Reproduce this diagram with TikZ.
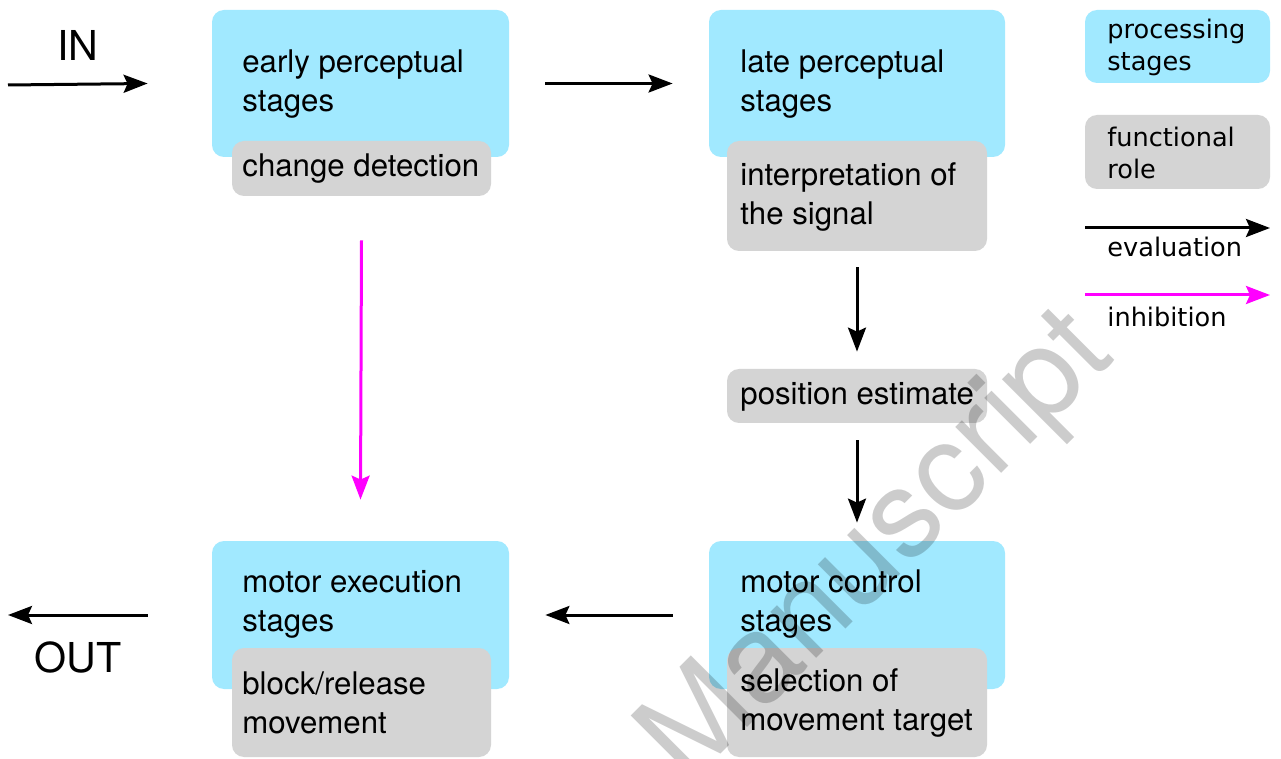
\documentclass[tikz,border=0pt]{standalone}
\usepackage{fontspec}
\setmainfont{TeX Gyre Heros}
\newfontfamily\legfont{DejaVu Sans}
\usetikzlibrary{arrows.meta,fit}
\definecolor{procblue}{RGB}{161,233,255}
\definecolor{rolegray}{RGB}{212,212,212}
\definecolor{inhib}{RGB}{255,0,255}
\begin{document}
\begin{tikzpicture}[x=0.5pt,y=-0.5pt,
  procbox/.style={fill=procblue, rounded corners=6pt, inner sep=0pt},
  rolebox/.style={fill=rolegray, rounded corners=6pt, inner sep=0pt},
  txt/.style={anchor=base west, inner sep=0pt, align=left, font=\fontsize{15.6}{19.5}\selectfont},
  bigtxt/.style={inner sep=0pt, font=\fontsize{20.6}{24}\selectfont},
  legtxt/.style={anchor=base west, inner sep=0pt, align=left, font=\legfont\fontsize{12.8}{16}\selectfont},
  evalarrow/.style={line width=1.5pt, -{Stealth[length=12pt,width=9pt,inset=2pt]}},
  inhibarrow/.style={evalarrow, draw=inhib, fill=inhib}]
\useasboundingbox (0,0) rectangle (1281,759);
\fill[white] (0,0) rectangle (1281,759);

% processing stages (blue)
\node[procbox, fit={(212,10) (509,157)}] (early) {};
\node[procbox, fit={(709,10) (1005,157)}] (late) {};
\node[procbox, fit={(709,541) (1005,689)}] (mctrl) {};
\node[procbox, fit={(212,541) (509,689)}] (mexec) {};

% functional roles (gray)
\node[rolebox, fit={(232,141) (491,196)}] (change) {};
\node[rolebox, fit={(727,141) (987,251)}] (interp) {};
\node[rolebox, fit={(727,369) (987,423)}] (pos) {};
\node[rolebox, fit={(727,648) (987,757)}] (select) {};
\node[rolebox, fit={(232,648) (491,757)}] (block) {};

% texts (base = baseline of the last line)
\node[txt] (tearly) at (242,112) {early perceptual\\stages};
\node[txt] (tchange) at (242,177) {change detection};
\node[txt] (tlate) at (740,112) {late perceptual\\stages};
\node[txt] (tinterp) at (740,225) {interpretation of\\the signal};
\node[txt] (tpos) at (740,405) {position estimate};
\node[txt] (tmctrl) at (740,631) {motor control\\stages};
\node[txt] (tselect) at (740,730) {selection of\\movement target};
\node[txt] (tmexec) at (242,631) {motor execution\\stages};
\node[txt] (tblock) at (242,733) {block/release\\movement};

\node[bigtxt] (tin) at (78,45) {IN};
\node[bigtxt] (tout) at (78,657) {OUT};

% legend
\node[procbox, fit={(1085,10) (1270,83)}] (legproc) {};
\node[rolebox, fit={(1085,115) (1270,189)}] (legrole) {};
\node[legtxt] (tlegproc) at (1107,71) {processing\\stages};
\node[legtxt] (tlegrole) at (1107,179) {functional\\role};
\coordinate (ev1) at (1085,228);
\coordinate (ev2) at (1270,228);
\coordinate (ih1) at (1085,295);
\coordinate (ih2) at (1270,295);
\draw[evalarrow] (ev1) -- (ev2);
\draw[inhibarrow] (ih1) -- (ih2);
\node[legtxt] (tleveval) at (1107,257) {evaluation};
\node[legtxt] (tlevinh) at (1107,327) {inhibition};

% connectors
\coordinate (in) at (8,85);
\coordinate (out) at (8,615);
\draw[evalarrow] (in) -- ([xshift=-32pt]early.west);
\draw[evalarrow] ([xshift=18pt]early.east) -- ([xshift=-18pt]late.west);
\draw[inhibarrow] ([yshift=-22pt]change.south) -- ([yshift=20.5pt]mexec.north);
\draw[evalarrow] ([yshift=-8pt]interp.south) -- ([yshift=8.5pt]pos.north);
\draw[evalarrow] ([yshift=-8.5pt]pos.south) -- ([yshift=9pt]mctrl.north);
\draw[evalarrow] ([xshift=-18pt]mctrl.west) -- ([xshift=18pt]mexec.east);
\draw[evalarrow] ([xshift=-32pt]mexec.west) -- (out);

% watermark
\node[rotate=45, inner sep=0pt, text=black, text opacity=0.2, font=\fontsize{62}{62}\selectfont] (wm) at (880,550) {Manuscript};
\end{tikzpicture}
\end{document}
